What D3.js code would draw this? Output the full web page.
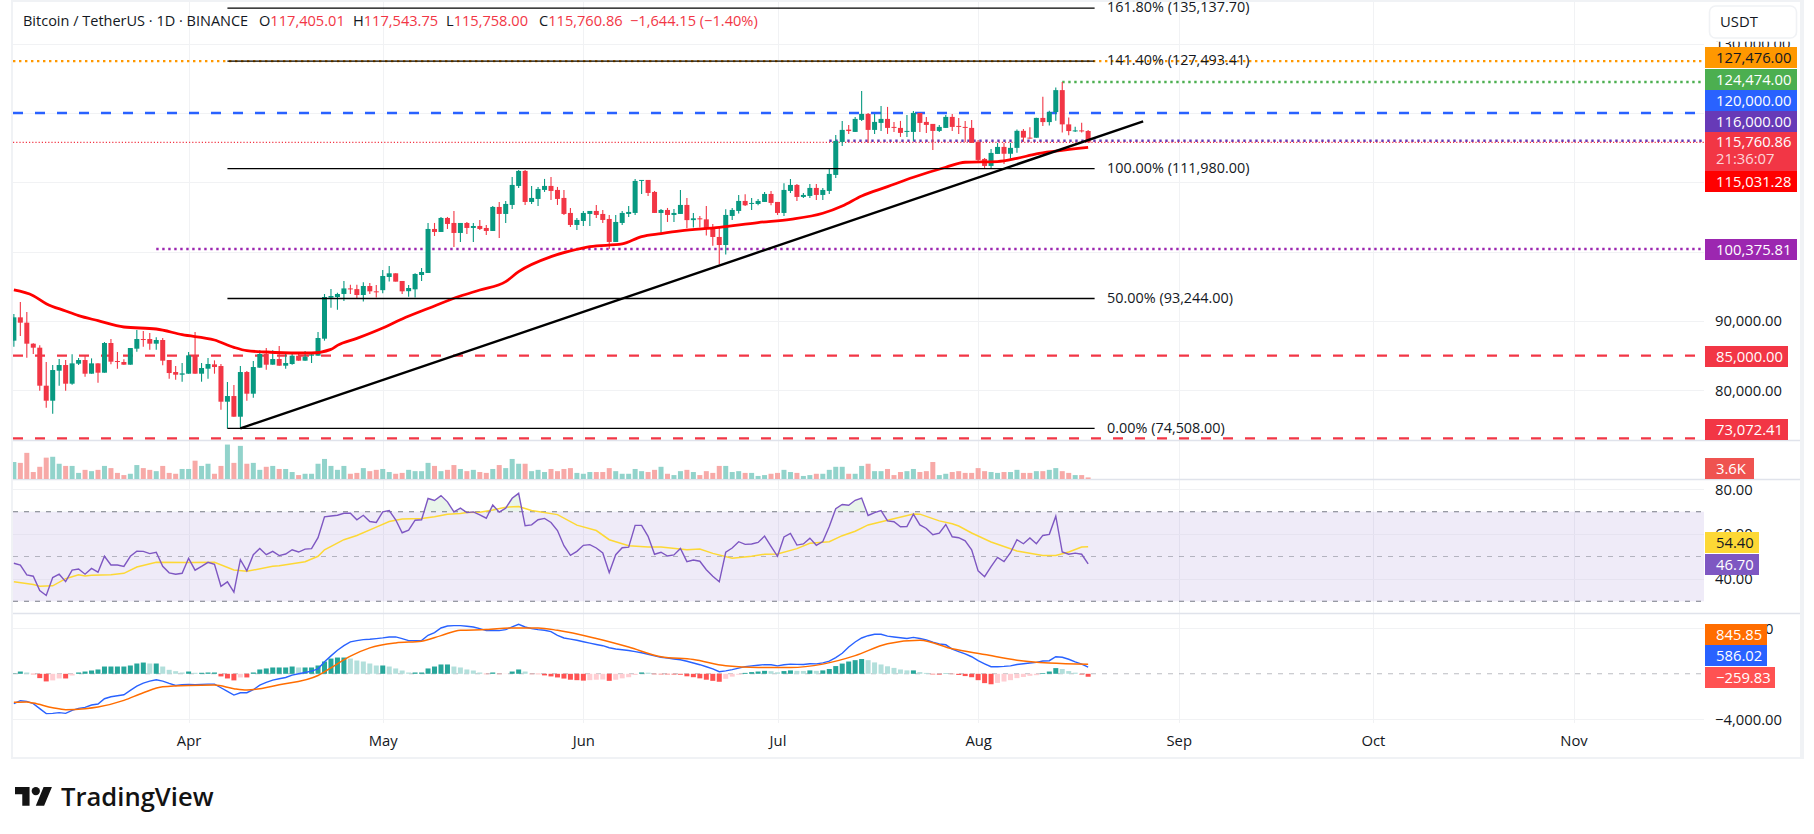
<!DOCTYPE html>
<html><head><meta charset="utf-8">
<script src="https://cdn.jsdelivr.net/npm/d3@7"></script>
<style>html,body{margin:0;padding:0;background:#fff;overflow:hidden}svg{display:block}
text{font-family:"Open Sans","Liberation Sans",sans-serif}</style>
</head><body><svg id="c" width="1814" height="834"></svg>
<script>
const firstDay = "2025-03-05";
const opens = [87162,90529,89759,86729,86152,80668,78504,82833,83650,80957,
83843,84372,82400,83891,82544,86825,84227,84083,83698,86007,
87402,87402,86729,87258,84372,82640,82255,82400,85045,82400,
83121,83747,83506,78360,79177,76195,82640,79514,83266,85238,
83698,84516,83554,83795,84997,84276,84997,84997,87450,93367,
93463,
93900,94700,94600,93750,95050,94280,94450,96350,96878,95772,
94300,94570,96636,96925,103275,102842,104863,104141,102698,104141,
103420,103708,103420,102987,106450,105440,106739,109480,111645,107171,
107604,108903,109480,108903,107749,105584,103853,104430,105440,105873,
105440,104718,101400,104141,105440,105584,110202,110346,108614,105584,
106017,105296,105440,
106739,104550,104810,104660,103300,102120,100960,105151,105873,107316,
106883,106883,107171,108326,107171,105584,108759,109625,107893,108037,
109192,108181,108759,111068,115829,117600,117272,119004,119870,117561,
118571,119148,117994,117850,117272,117272,120014,118715,118427,117417,
117850,119437,118138,117994,117850,115829,113376,112366,114098,115108,
114120,114970,117430,116450,116430,119290,118690,120130,123300,118360,
117400,117490,117405.01];
const highs = [91010,92741,91298,86777,86488,84083,83650,84516,84372,85190,
84661,84949,84612,83891,86969,87402,85526,84468,86104,88701,
88557,88268,87643,87547,84372,83506,83939,85526,88412,83939,
84661,84324,83795,81197,80764,83506,82785,84228,85767,86104,
85767,86392,85526,85382,85430,85671,85334,88412,93896,94617,
94088,
95772,95240,95240,95572,95483,95200,97359,97936,96900,95772,
95200,96880,97647,104141,104141,105007,105007,105873,104141,104285,
104141,104574,103853,106594,107172,107316,110779,111789,111789,109480,
109336,110490,110779,109336,108903,106305,104863,105873,105873,106738,
106017,105296,105296,105873,106594,110490,110346,110346,108759,106161,
106305,106161,108903,
107749,105584,105150,106594,104000,103400,106100,106306,108181,108278,
107749,107604,108614,108759,107171,109865,110490,109769,108470,109769,
109769,109192,112078,116840,118860,118282,119437,123189,120014,119870,
121024,120880,118715,118860,119725,120303,120014,119437,118427,118282,
119725,119870,119293,118860,119004,116118,113520,114819,115685,115700,
115700,117630,117700,117950,119300,122330,120320,123670,124474,119350,
118000,118600,117543.75];
const lows = [86296,87835,84709,85238,79947,77494,76628,80668,79947,80813,
83650,81967,82400,81101,82544,83747,83121,83698,83698,85575,
86296,85863,85863,83602,81678,81534,81246,82400,82400,81246,
81678,82400,77205,74508,76200,74620,78504,78936,83266,82977,
83698,83554,83121,83698,84276,84276,83939,84997,87162,91924,
91635,
92900,93900,93200,92800,93900,93400,94000,95700,95700,93900,
93500,93400,95772,96925,102265,102842,103275,100678,101400,102554,
101400,103131,102410,102987,101977,104141,106161,109191,106739,106883,
106594,108614,107460,106739,105296,103564,103131,103708,103708,104863,
104141,100389,101400,103853,105007,105296,108326,108037,105584,102698,
104285,104285,105440,
103371,103500,103500,102345,100840,98200,99600,104574,105500,106594,
106017,106690,107171,106690,105295,105151,108470,107316,107749,107749,
107460,107460,108326,110635,115252,116984,117272,118860,115685,116984,
117417,116984,117272,116551,116551,115974,117272,117128,114675,117272,
117850,117417,116984,115829,115685,113088,111933,111933,114098,112650,
113400,114270,115880,116300,116430,118110,118200,118900,117180,116800,
117250,117200,115758];
const closes = [90529,89759,86729,86152,80668,78504,82929,83650,80957,83891,
84372,82400,83891,82544,86825,84131,84083,83698,86104,87402,
87306,86729,87258,84276,82496,82255,82448,85045,82400,83218,
83795,83362,78360,79177,76195,82640,79514,83362,85238,83698,
84516,83554,83939,84997,84276,84853,85190,87547,93463,93607,
93896,
94700,94600,93750,95050,94280,94180,96493,96878,95676,94280,
94760,96783,97070,103275,102842,104863,103997,102698,104141,103420,
103700,103275,102987,106450,105440,106883,109625,111645,107171,107749,
109047,109480,108759,107604,105440,103853,104574,105584,105873,105296,
104574,101400,104285,105584,105729,110202,110346,108470,105584,106017,
105296,105584,106739,
104550,104810,104660,103300,102120,100960,105295,106017,107316,106690,
107027,107316,108326,107027,105584,108903,109625,107893,108181,109192,
108181,108903,111212,115974,117561,117400,119148,119870,117561,118715,
119148,117850,117850,117128,117417,120014,118571,118282,117417,117994,
119437,117994,117994,117850,115685,113232,112366,114242,115108,114120,
114970,117430,116450,116430,119290,118690,120130,123300,118360,117400,
117490,117405,115760.86];
const volumesK = [39,37,60,16,28,49,51,35,30,30,14,21,18,21,30,25,14,9,12,32,25,21,18,30,14,12,23,23,42,30,35,12,30,79,37,76,35,37,21,28,30,23,23,16,9,12,12,35,46,30,21,30,12,14,25,18,21,23,16,12,14,21,18,18,37,30,18,21,32,23,18,21,16,
14,23,32,25,46,35,35,18,21,16,23,18,23,25,14,12,16,16,16,25,18,12,12,23,18,16,21,28,12,9,18,21,16,9,18,14,30,30,16,18,14,14,7,9,12,14,21,16,14,7,9,12,12,21,28,28,12,12,30,35,18,18,23,9,16,18,23,16,18,39,9,12,16,18,
14,14,25,18,16,14,16,16,21,14,14,18,18,21,25,18,14,9,9,3.6];
const maDays = [0,3,5,8,10,13,17,22,26,31,34,36,39,44,46,49,50,53,57,60,64,69,72,76,78,83,86,89,94,97,100,103,109,115,120,125,128,131,135,139,144,147,152,155,158,161,166];
const maValues = [94473,93655,92500,91443,90769,90048,89134,88845,88027,87258,86200,85719,85526,85382,85382,85911,86488,87500,89000,90300,91800,93600,94473,95675,97118,99283,100100,100726,101111,102169,102602,102987,103500,104200,104670,105536,106594,108037,109384,110731,112174,112895,112991,113450,114100,114500,115031.28];
const rsi = [47.0,46.2,41.8,41.2,34.8,32.6,40.6,42.1,38.8,43.9,44.4,42.1,44.7,43.0,50.1,46.2,46.2,45.6,50.1,52.4,52.3,51.3,51.9,45.6,42.7,42.1,42.5,49.2,43.9,45.6,47.4,46.5,36.7,38.7,34.1,48.6,43.6,50.8,53.6,50.8,52.3,50.4,51.1,53.0,52.0,53.3,53.5,58.4,67.7,68.1,68.4,69.3,69.3,66.4,68.4,65.6,65.2,69.9,70.5,66.4,60.6,61.8,66.2,66.4,75.9,75.0,77.2,74.4,69.9,71.6,69.6,69.9,68.6,
67.1,73.0,69.8,71.6,76.0,78.2,63.7,64.1,66.4,67.0,65.2,61.6,54.8,50.5,52.3,55.0,55.3,53.8,51.6,42.8,50.8,53.9,54.2,63.9,63.9,59.0,51.0,51.9,50.2,50.7,53.6,47.7,48.4,47.9,44.1,41.2,38.7,51.9,53.8,56.6,55.4,55.6,56.3,59.1,54.5,50.1,58.7,60.3,55.1,55.6,58.2,55.0,56.7,63.4,71.3,73.2,72.9,75.1,76.1,68.3,69.6,70.5,65.9,65.5,63.3,63.4,68.9,64.1,62.5,59.7,60.4,64.3,58.8,58.4,
57,53,43.6,41,45.5,49.6,47.7,51.7,57.5,55.7,58.3,55.7,59.4,59.9,68,52,51,51.5,51,46.7];
const rsiMaDays = [0,3,4,6,8,10,11,12,15,17,19,22,27,31,34,36,40,41,45,47,48,51,53,56,58,60,63,65,67,69,70,72,74,76,78,80,84,87,90,92,95,98,100,104,106,108,111,114,116,118,121,123,126,128,130,132,135,139,140,143,145,146,148,151,155,159,161,163,165,166];
const rsiMaValues = [38.7,37.5,36.7,36.9,40.1,41.8,41.3,41.6,41.9,42.5,45.3,47.4,47.3,47.4,44.0,43.4,45.6,45.9,47.7,50.1,53.0,57.5,59.4,63.1,65.6,66.7,67.0,67.7,68.9,69.2,69.6,69.8,70.8,72.0,72.3,70.5,68.7,64.0,61.6,57.5,54.8,54.2,54.2,53.0,53.3,51.4,49.2,50.1,51.0,51.1,53.5,55.9,56.6,59.3,61.3,64.1,66.2,69.0,68.9,65.9,64.6,63.6,60.5,56.5,52.5,50.5,50.5,52,54.2,54.4];
const macdHist = [30,200,115,-40,-380,-670,-580,-410,-410,-150,115,200,290,380,640,640,640,640,730,905,990,905,905,640,350,230,115,200,90,90,115,115,-230,-410,-580,-320,-320,115,380,470,555,555,555,640,555,555,555,730,1080,1340,1430,1430,1340,1170,1080,905,730,730,640,470,290,115,115,115,470,640,820,820,640,555,380,290,115,-30,115,-30,-20,200,380,200,-30,-30,-140,-230,-320,
-420,-520,-560,-600,-560,-520,-500,-620,-520,-400,-300,-100,120,100,-40,-50,-50,-60,-80,-220,-300,-400,-520,-620,-700,-440,-250,-80,80,150,200,260,230,130,240,300,260,250,300,260,300,420,680,900,1080,1200,1300,1200,1000,820,660,520,380,300,300,150,80,-50,-70,30,-30,-100,-200,-300,-560,-820,-920,-800,-680,-560,-380,-280,-180,-120,60,200,500,420,240,100,-60,-259.83];
const macdLine = [-2630,-2365,-2424,-2630,-3066,-3504,-3475,-3416,-3475,-3212,-3037,-2950,-2745,-2657,-2190,-2015,-1927,-1840,-1460,-1080,-818,-642,-526,-642,-847,-1022,-964,-934,-964,-934,-905,-905,-1226,-1548,-1869,-1664,-1664,-1402,-993,-759,-555,-438,-321,-117,0,117,234,438,1051,1577,2073,2482,2803,2920,3008,3037,3095,3154,3241,3241,3095,2920,2920,2920,3387,3621,4030,4205,4234,4234,4176,4117,3971,3796,3825,3796,3884,4117,4351,4117,3971,3884,3825,3708,3387,
3150,3050,2950,2820,2700,2580,2470,2290,2180,2110,2050,1950,1850,1720,1570,1450,1380,1300,1230,1100,950,800,620,430,180,260,370,500,630,700,750,810,800,700,790,850,830,820,880,870,960,1120,1420,1800,2350,2800,3150,3350,3480,3480,3310,3240,3170,3110,3200,3100,2980,2780,2620,2550,2170,1950,1750,1500,1150,880,620,620,650,700,820,880,950,1000,1120,1150,1500,1450,1280,1050,850,586.02];
const signalDays = [0,2,3,6,8,11,13,17,20,23,27,31,34,36,41,47,49,52,55,59,63,66,69,73,77,81,84,90,95,100,105,110,115,120,125,130,135,140,145,150,155,160,166];
const signalValues = [-2511,-2482,-2570,-2978,-3154,-3066,-2920,-2336,-1664,-1139,-1022,-993,-1314,-1431,-964,-146,526,1548,2278,2716,2862,3358,3825,3884,4030,4030,3825,3100,2350,1500,1250,700,550,550,850,1600,2650,2950,2200,1700,1200,950,845.85];
const fibLevels = [135137.70,127493.41,111980,93244,74508];
const fibLabels = ["161.80% (135,137.70)","141.40% (127,493.41)","100.00% (111,980.00)","50.00% (93,244.00)","0.00% (74,508.00)"];
const priceTicks = [130000,120000,110000,100000,90000,80000];
const rsiTicks = [80,60,40];
const macdTicks = [4000,-4000];
const monthTicks = ["2025-04-01","2025-05-01","2025-06-01","2025-07-01","2025-08-01","2025-09-01","2025-10-01","2025-11-01"];
const monthLabels = ["Apr","May","Jun","Jul","Aug","Sep","Oct","Nov"];
const trendDays = [35,174.5];
const trendPrices = [74508,118788];

const L=13,R=1704,AX=1705,FS=14.8;
const dayDate=i=>new Date(Date.parse(firstDay+"T00:00:00Z")+i*864e5);
const x=d3.scaleUtc().domain([new Date("2025-04-01T00:00:00Z"),new Date("2025-11-01T00:00:00Z")]).range([188.6,1573.5]);
const xi=i=>x(dayDate(i));
const yP=d3.scaleLinear().domain([90000,120000]).range([321,113]);
const yV=d3.scaleLinear().domain([0,78]).range([479,445]);
const yR=d3.scaleLinear().domain([30,70]).range([601.3,511.7]);
const yM=d3.scaleLinear().domain([-4000,4000]).range([719.3,628.3]);

const svg=d3.select("#c");
const defs=svg.append("defs");
const clip=(id,x0,y0,w,h)=>defs.append("clipPath").attr("id",id).append("rect").attr("x",x0).attr("y",y0).attr("width",w).attr("height",h);
clip("cMain",L,2,R-L,438); clip("cVol",L,441,R-L,38); clip("cMacd",L,614,R-L,110); clip("cOver",L,479,R-L,yR(70)-479);

// frame
const frame="#f0f2f5";
svg.append("rect").attr("x",11).attr("y",0).attr("width",1793).attr("height",2).attr("fill",frame);
svg.append("rect").attr("x",11).attr("y",0).attr("width",2).attr("height",758).attr("fill",frame);
svg.append("rect").attr("x",1800).attr("y",0).attr("width",4).attr("height",758).attr("fill",frame);
svg.append("rect").attr("x",11).attr("y",757).attr("width",1793).attr("height",2).attr("fill",frame);

// grid
const grid="#f1f2f4";
const gGrid=svg.append("g").attr("stroke",grid).attr("stroke-width",1);
monthTicks.forEach(m=>{const px=Math.round(x(new Date(m+"T00:00:00Z")))+.5;gGrid.append("line").attr("x1",px).attr("x2",px).attr("y1",2).attr("y2",723);});
const hline=(g,y,c)=>g.append("line").attr("x1",L).attr("x2",R).attr("y1",y).attr("y2",y).attr("stroke",c);
priceTicks.forEach(p=>hline(gGrid,Math.round(yP(p))+.5,grid));
macdTicks.forEach(p=>hline(gGrid,Math.round(yM(p))+.5,grid));
hline(gGrid,Math.round(yR(80))+.5,grid);

// separators
[440.5,479.5,613.5].forEach(y=>svg.append("line").attr("x1",L).attr("x2",1800).attr("y1",y).attr("y2",y).attr("stroke","#e0e3eb").attr("stroke-width",1.3));

// level lines
const lvl=(p,x1,c,w,dash)=>svg.append("line").attr("x1",x1).attr("x2",R).attr("y1",yP(p)).attr("y2",yP(p)).attr("stroke",c).attr("stroke-width",w).attr("stroke-dasharray",dash);
lvl(127476,L,"#ff9800",2.4,"2.4 3.6");
lvl(124474,xi(162),"#4caf50",2.4,"2.4 3.6");
lvl(120000,L,"#2962ff",2.4,"10 12");
lvl(116000,xi(126),"#673ab7",2.4,"2.4 3.6");
lvl(115760.86,L,"#f23645",1.1,"1.2 2");
lvl(100375.81,xi(22),"#9c27b0",2.4,"2.4 3.6");
lvl(85000,L,"#f23645",2.4,"10 12");
lvl(73072.41,L,"#f23645",2.4,"10 12");

// candles
const idx=d3.range(opens.length);
const UP="#089981",DN="#f23645";
const gC=svg.append("g").attr("clip-path","url(#cMain)");
const up=i=>closes[i]>=opens[i];
gC.selectAll("line.w").data(idx).join("line").attr("x1",i=>xi(i)).attr("x2",i=>xi(i)).attr("y1",i=>yP(highs[i])).attr("y2",i=>yP(lows[i])).attr("stroke",i=>up(i)?UP:DN).attr("stroke-width",1.1);
gC.selectAll("rect.b").data(idx).join("rect").attr("x",i=>xi(i)-2.5).attr("width",5).attr("y",i=>Math.min(yP(opens[i]),yP(closes[i]))).attr("height",i=>Math.max(1,Math.abs(yP(opens[i])-yP(closes[i])))).attr("fill",i=>up(i)?UP:DN);

// MA
const line=(yf)=>d3.line().x(d=>xi(d[0])).y(d=>yf(d[1]));
gC.append("path").attr("d",line(yP).curve(d3.curveMonotoneX)(d3.zip(maDays,maValues))).attr("fill","none").attr("stroke","#ff0000").attr("stroke-width",2.8);
// trend
gC.append("path").attr("d",line(yP)(d3.zip(trendDays,trendPrices))).attr("fill","none").attr("stroke","#000").attr("stroke-width",2.4);
// fib
fibLevels.forEach((p,k)=>{
  gC.append("line").attr("x1",xi(33)).attr("x2",xi(167)).attr("y1",yP(p)).attr("y2",yP(p)).attr("stroke","#000").attr("stroke-width",1.3);
  svg.append("text").attr("x",xi(167)+12.5).attr("y",yP(p)).attr("dy","0.3em").attr("font-size",14.4).attr("fill","#131722").text(fibLabels[k]);
});

// volume
svg.append("g").attr("clip-path","url(#cVol)").selectAll("rect").data(idx).join("rect").attr("x",i=>xi(i)-2.5).attr("width",5).attr("y",i=>yV(volumesK[i])).attr("height",i=>479-yV(volumesK[i])).attr("fill",i=>up(i)?"#92d3cb":"#f7a9a7");

// RSI
svg.append("rect").attr("x",L).attr("width",R-L).attr("y",yR(70)).attr("height",yR(30)-yR(70)).attr("fill","#7e57c2").attr("fill-opacity",.12);
rsiTicks.filter(p=>p!==80).forEach(p=>hline(svg,Math.round(yR(p))+.5,"#e6e3f0"));
const dashL=(y,c,op)=>svg.append("line").attr("x1",L).attr("x2",R).attr("y1",y).attr("y2",y).attr("stroke",c).attr("stroke-opacity",op).attr("stroke-dasharray","5 6").attr("stroke-width",1.1);
dashL(yR(70),"#787b86",1);dashL(yR(50),"#787b86",.5);dashL(yR(30),"#787b86",1);
const rsiPts=rsi.map((v,i)=>[i,v]);
svg.append("path").attr("clip-path","url(#cOver)").attr("d",d3.area().x(d=>xi(d[0])).y0(yR(70)).y1(d=>yR(d[1]))(rsiPts)).attr("fill","#4caf50").attr("fill-opacity",.12);
svg.append("path").attr("d",line(yR)(d3.zip(rsiMaDays,rsiMaValues))).attr("fill","none").attr("stroke","#fdd835").attr("stroke-width",1.5);
svg.append("path").attr("d",line(yR)(rsiPts)).attr("fill","none").attr("stroke","#7e57c2").attr("stroke-width",1.4);

// MACD
dashL(yM(0),"#787b86",.5);
const histColor=i=>{const v=macdHist[i],p=i?macdHist[i-1]:0;return v>=0?(v>=p?"#26a69a":"#b2dfdb"):(v<=p?"#ff5252":"#ffcdd2");};
svg.append("g").attr("clip-path","url(#cMacd)").selectAll("rect").data(idx).join("rect").attr("x",i=>xi(i)-2.5).attr("width",5).attr("y",i=>Math.min(yM(0),yM(macdHist[i]))).attr("height",i=>Math.abs(yM(macdHist[i])-yM(0))).attr("fill",histColor);
svg.append("path").attr("clip-path","url(#cMacd)").attr("d",line(yM)(macdLine.map((v,i)=>[i,v]))).attr("fill","none").attr("stroke","#2962ff").attr("stroke-width",1.4);
svg.append("path").attr("clip-path","url(#cMacd)").attr("d",line(yM).curve(d3.curveMonotoneX)(d3.zip(signalDays,signalValues))).attr("fill","none").attr("stroke","#ff6d00").attr("stroke-width",1.5);

// axes
const fmtA=d3.format(",.2f");
const styleAxis=g=>{g.select(".domain").remove();g.selectAll(".tick line").remove();g.selectAll("text").attr("fill","#131722").attr("font-size",FS).attr("font-family","'Open Sans',sans-serif");};
const axisX=d3.axisRight;
svg.append("g").attr("transform",`translate(${AX+10},0)`).call(axisX(yP).tickValues([130000,90000,80000]).tickFormat(fmtA).tickSize(0).tickPadding(0)).call(styleAxis);
svg.append("g").attr("transform",`translate(${AX+10},0)`).call(axisX(yR).tickValues(rsiTicks).tickFormat(fmtA).tickSize(0).tickPadding(0)).call(styleAxis);
svg.append("g").attr("transform",`translate(${AX+10},0)`).call(axisX(yM).tickValues(macdTicks).tickFormat(d=>fmtA(d).replace("-","\u2212")).tickSize(0).tickPadding(0)).call(styleAxis);
svg.append("g").attr("transform","translate(0,732)").call(d3.axisBottom(x).tickValues(monthTicks.map(m=>new Date(m+"T00:00:00Z"))).tickFormat((d,i)=>monthLabels[i]).tickSize(0).tickPadding(3)).call(styleAxis);

// USDT
svg.append("rect").attr("x",1700).attr("y",2).attr("width",100).attr("height",39.7).attr("fill","#fff");
svg.append("rect").attr("x",1709.5).attr("y",6).attr("width",87).attr("height",32).attr("rx",6).attr("fill","#fff").attr("stroke","#f0f2f5").attr("stroke-width",1.6);
svg.append("text").attr("x",1720).attr("y",22).attr("dy","0.35em").attr("font-size",FS).attr("fill","#131722").text("USDT");

// price tags
const tag=(y0,y1,x1,fill,txt,tc)=>{
  svg.append("rect").attr("x",AX).attr("y",y0).attr("width",x1-AX).attr("height",y1-y0).attr("fill",fill);
  svg.append("text").attr("x",AX+11).attr("y",(y0+y1)/2).attr("dy","0.36em").attr("font-size",FS).attr("fill",tc||"#fff").text(txt);
};
tag(47,68,1797,"#ff9800","127,476.00","#131722");
tag(69,90,1797,"#4caf50","124,474.00");
tag(90,111,1797,"#2962ff","120,000.00");
tag(111,132,1797,"#673ab7","116,000.00");
svg.append("rect").attr("x",AX).attr("y",132).attr("width",92).attr("height",39).attr("fill","#f23645");
svg.append("text").attr("x",AX+11).attr("y",142).attr("dy","0.36em").attr("font-size",FS).attr("fill","#fff").text("115,760.86");
svg.append("text").attr("x",AX+11).attr("y",159).attr("dy","0.36em").attr("font-size",FS).attr("fill","#fff").attr("fill-opacity",.8).text("21:36:07");
tag(171,192,1797,"#ff0000","115,031.28");
tag(239,260,1797,"#9c27b0","100,375.81");
tag(346,367,1788,"#f23645","85,000.00");
tag(419,440,1788,"#f23645","73,072.41");
tag(458,479,1754,"#ef5350","3.6K");
tag(532,553,1759,"#fdd835","54.40","#131722");
tag(554,575,1759,"#7e57c2","46.70");
tag(624,645,1767,"#ff6d00","845.85");
tag(645,666,1767,"#2962ff","586.02");
tag(667,688,1775,"#ff5252","\u2212259.83");

// header
svg.append("text").attr("x",23).attr("y",21).attr("dy","0.35em").attr("font-size",14.5).attr("fill","#131722").text("Bitcoin / TetherUS \u00b7 1D \u00b7 BINANCE");
const headerParts=[[259,"O","117,405.01"],[353,"H","117,543.75"],[446,"L","115,758.00"],[539,"C","115,760.86"]];
headerParts.forEach(([px,a,b])=>{
  const t=svg.append("text").attr("x",px).attr("y",21).attr("dy","0.35em").attr("font-size",14.6).attr("fill","#131722");
  t.append("tspan").text(a);t.append("tspan").attr("fill","#f23645").text(b);
});
svg.append("text").attr("x",630).attr("y",21).attr("dy","0.35em").attr("font-size",14.6).attr("fill","#f23645").text("\u22121,644.15 (\u22121.40%)");

// logo
const logo=svg.append("g").attr("transform","translate(15,782.8) scale(1.04)").attr("fill","#131313");
logo.append("path").attr("d","M14 22H7V11H0V4h14v18zM28 22h-8l7.5-18h8L28 22z");
logo.append("circle").attr("cx",20).attr("cy",8).attr("r",4);
svg.append("text").attr("x",61).attr("y",797).attr("dy","0.35em").attr("font-size",25.6).attr("font-weight",600).attr("font-family","Inter,sans-serif").attr("fill","#131313").text("TradingView");
</script></body></html>
